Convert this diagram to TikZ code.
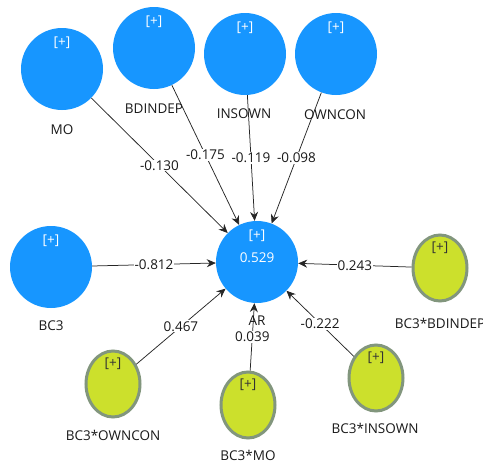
\documentclass[tikz,border=0pt]{standalone}
\usepackage{fontspec}
\setmainfont{Open Sans}
\usetikzlibrary{shapes.geometric, arrows.meta}
\definecolor{lvBlue}{RGB}{23,150,255}
\definecolor{lvGreen}{RGB}{204,224,44}
\definecolor{lvRim}{RGB}{130,150,125}
\tikzstyle{latent} = [circle, minimum size=82pt, inner sep=0pt, fill=lvBlue, text=white, label={[text=white, yshift=26pt]center:{[+]}}]
\tikzstyle{interact} = [ellipse, minimum width=54pt, minimum height=66pt, inner sep=0pt, fill=lvGreen, draw=lvRim, line width=3pt, label={[text=black!80, yshift=20pt]center:{[+]}}]
\tikzstyle{lvname} = [text=black!90]
\tikzstyle{coef} = [fill=white, inner sep=1pt, text=black!90]
\tikzstyle{arrow} = [line width=0.75pt, draw=black!85, ->, >={Stealth[length=9pt, width=8pt]}]

\begin{document}
\begin{tikzpicture}[x=1pt, y=-1pt, font=\fontsize{13.5}{16}\selectfont]

\useasboundingbox (0,0) rectangle (483,463);

% Top row - exogenous constructs
\node (moLV) [latent] at (62,69) {};
\node (bdindepLV) [latent] at (154,48) {};
\node (insownLV) [latent] at (245,54) {};
\node (owonconLV) [latent] at (336,54) {};

% Middle row
\node (bcLV) [latent] at (51,267) {};
\node (arLV) [latent, label={[text=white, yshift=4pt]center:0.529}] at (257,262) {};
\node (bcBdindepLV) [interact] at (440,268) {};

% Bottom row - interaction terms
\node (bcOwnconLV) [interact] at (113,384) {};
\node (bcMoLV) [interact] at (248,405) {};
\node (bcInsownLV) [interact] at (376,378) {};

% Names under the constructs
\node (moName) [lvname] at (62,130) {MO};
\node (bdindepName) [lvname] at (154,109) {BDINDEP};
\node (insownName) [lvname] at (244,114) {INSOWN};
\node (owonconName) [lvname] at (335,115) {OWNCON};
\node (bcName) [lvname] at (51,326) {BC3};
\node (bcBdindepName) [lvname] at (440,323) {BC3*BDINDEP};
\node (bcOwnconName) [lvname] at (113,435) {BC3*OWNCON};
\node (bcMoName) [lvname] at (248,455) {BC3*MO};
\node (bcInsownName) [lvname] at (375,428) {BC3*INSOWN};

% Paths into AR
\draw [arrow] (moLV) -- node[coef] {-0.130} (arLV);
\draw [arrow] (bdindepLV) -- node[coef] {-0.175} (arLV);
\draw [arrow] (insownLV) -- node[coef] {-0.119} (arLV);
\draw [arrow] (owonconLV) -- node[coef] {-0.098} (arLV);
\draw [arrow] (bcLV) -- node[coef] {-0.812} (arLV);
\draw [arrow] (bcBdindepLV) -- node[coef] {0.243} (arLV);
\draw [arrow] (bcOwnconLV) -- node[coef] {0.467} (arLV);
\draw [arrow] (bcMoLV) -- node[coef] {0.039} (arLV);
\draw [arrow] (bcInsownLV) -- node[coef] {-0.222} (arLV);

\node (arName) [lvname] at (257,321) {AR};

\end{tikzpicture}
\end{document}
